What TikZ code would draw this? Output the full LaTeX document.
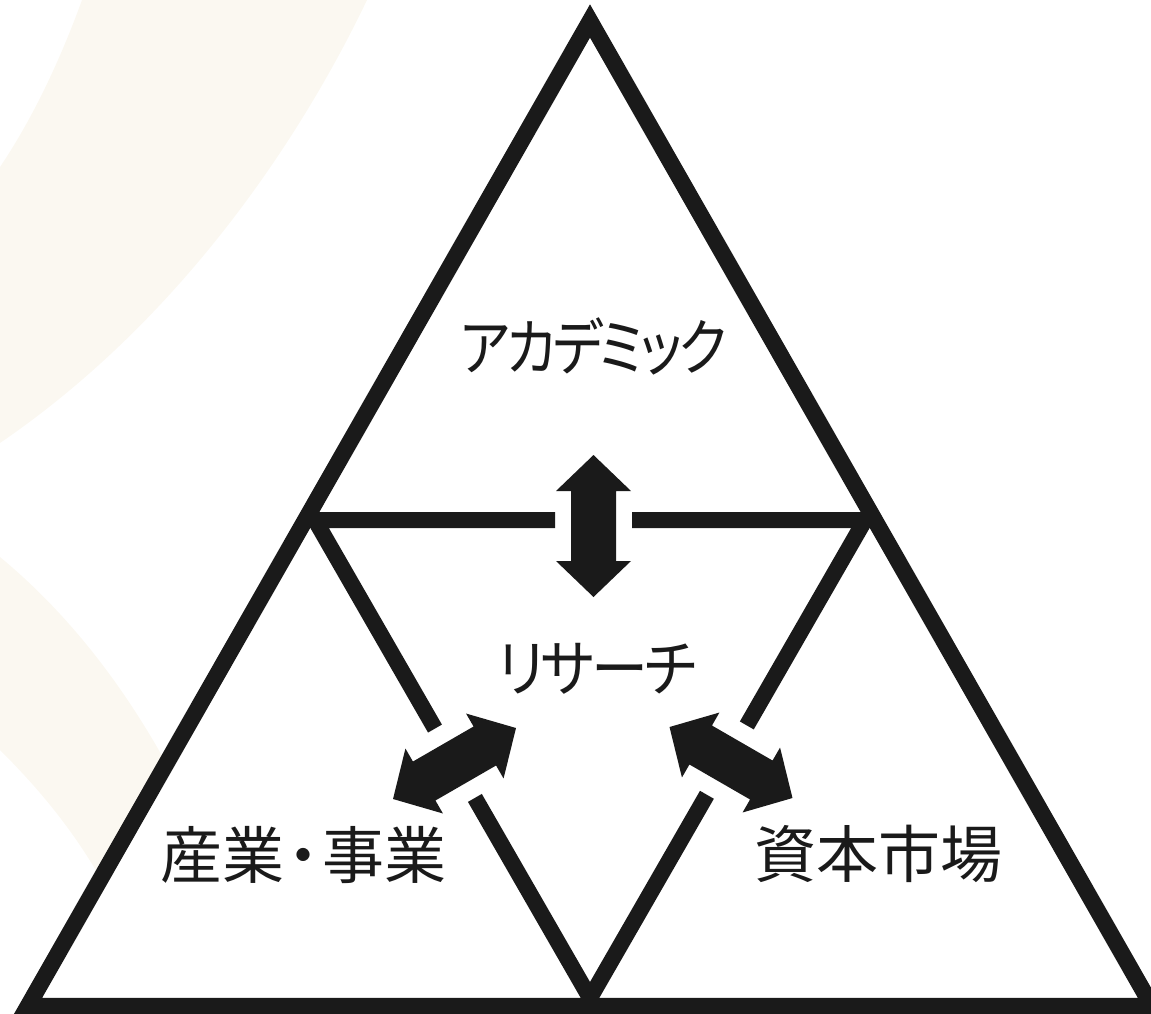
\documentclass[tikz,border=0pt]{standalone}
\usepackage{fontspec}
\newfontfamily\jp{Noto Sans CJK JP}
\newfontfamily\jpp[RawFeature=+palt, LetterSpace=-6]{Noto Sans CJK JP}
\usetikzlibrary{calc}
\definecolor{ink}{HTML}{1A1A1A}
\definecolor{cream}{RGB}{251,248,241}
\tikzset{
  frame/.style={draw=ink, line width=16.5pt, line join=miter},
  innerline/.style={draw=ink, line width=16pt, line join=miter, line cap=butt},
  lbl/.style={text=ink, inner sep=0pt, font=\jp\fontsize{62}{62}\selectfont},
  kana/.style={lbl, font=\jpp\fontsize{62}{62}\selectfont},
  dblarrow/.pic={\fill[ink] (-71,0) -- (-35,-37.5) -- (-35,-22.5) -- (35,-22.5) -- (35,-37.5) -- (71,0) -- (35,37.5) -- (35,22.5) -- (-35,22.5) -- (-35,37.5) -- cycle;}
}
\begin{document}
\begin{tikzpicture}[x=1pt,y=-1pt]
\useasboundingbox (0,0) rectangle (1151,1013);
% background decoration
\fill[cream] (82,0) -- (367,0) .. controls (300,140) and (180,320) .. (0,443) -- (0,167) .. controls (35,115) and (62,55) .. (82,0) -- cycle;
\fill[cream] (0,557) .. controls (70,615) and (140,700) .. (200,830) -- (140,960) .. controls (100,860) and (50,800) .. (0,750) -- cycle;
% coordinates
\coordinate (A) at (590,21);
\coordinate (BL) at (28,1006);
\coordinate (BR) at (1152,1006);
\coordinate (L) at (315,520);
\coordinate (R) at (865,520);
\coordinate (B) at (590,998);
\coordinate (VC) at (593.5,526);
\coordinate (AL) at (454.5,763.5);
\coordinate (AR) at (731,762.5);
\coordinate (VG) at ($(L)!(VC)!(R)$);
\coordinate (LG) at ($(L)!(AL)!(B)$);
\coordinate (RG) at ($(R)!(AR)!(B)$);
\coordinate (gH1) at ($(VG)!38.5pt!(L)$);
\coordinate (gH2) at ($(VG)!38.5pt!(R)$);
\coordinate (gL1) at ($(LG)!40pt!(L)$);
\coordinate (gL2) at ($(LG)!40pt!(B)$);
\coordinate (gR1) at ($(RG)!40pt!(R)$);
\coordinate (gR2) at ($(RG)!40pt!(B)$);
% outer triangle
\filldraw[frame, fill=white] (A) -- (BL) -- (BR) -- cycle;
% inner triangle with gaps
\draw[innerline] (gL1) -- (L) -- (gH1);
\draw[innerline] (gH2) -- (R) -- (gR1);
\draw[innerline] (gR2) -- (B) -- (gL2);
% arrows
\pic[rotate=90] at (VC) {dblarrow};
\pic[rotate=30] at (AL) {dblarrow};
\pic[rotate=-30] at (AR) {dblarrow};
% labels
\node[kana, xscale=0.86] (acad) at (593.5,346) {アカデミック};
\node[kana, xscale=0.92] (res) at (597,669) {リサーチ};
\node[lbl] (ind) at (303.5,855) {産業\kern-12pt・\kern-12pt事業};
\node[lbl] (cap) at (878,854) {資本市場};
\end{tikzpicture}
\end{document}
